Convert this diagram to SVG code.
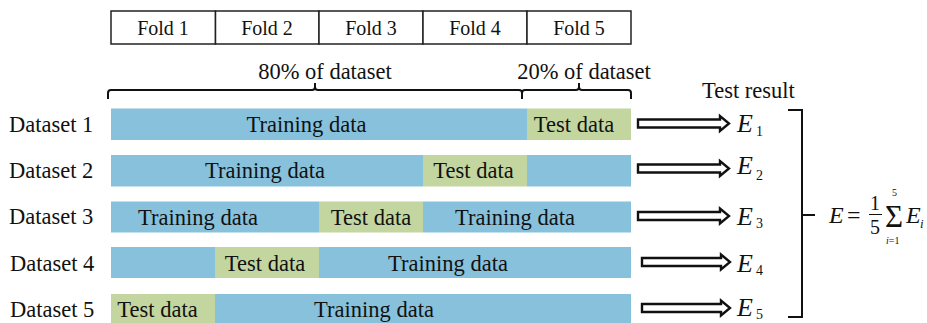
<svg xmlns="http://www.w3.org/2000/svg" width="927" height="323" viewBox="0 0 927 323" font-family="'Liberation Serif','DejaVu Serif','Times New Roman',serif">
<style>
text{font-family:"Liberation Serif","DejaVu Serif","Times New Roman",serif;fill:#111}
.fold{fill:#fff;stroke:#222;stroke-width:1.5}
.tr{fill:#87C1DC}
.te{fill:#C4D69F}
.t{font-size:22.5px;text-anchor:middle}
.lbl{font-size:22.5px}
.fl{font-size:20px;text-anchor:middle}
.br{fill:none;stroke:#111;stroke-width:2}
.ar{fill:#fff;stroke:#111;stroke-width:2.4;stroke-linejoin:miter}
.E{font-size:26px;font-style:italic}
.sub{font-size:14px}
</style>
<g id="folds">
<rect class="fold" x="111" y="11" width="104.5" height="33"/>
<rect class="fold" x="215.5" y="11" width="103.5" height="33"/>
<rect class="fold" x="319" y="11" width="104" height="33"/>
<rect class="fold" x="423" y="11" width="104" height="33"/>
<rect class="fold" x="527" y="11" width="104" height="33"/>
<text class="fl" x="163" y="35">Fold 1</text>
<text class="fl" x="267" y="35">Fold 2</text>
<text class="fl" x="371" y="35">Fold 3</text>
<text class="fl" x="475" y="35">Fold 4</text>
<text class="fl" x="579" y="35">Fold 5</text>
</g>
<g id="braces-top">
<path class="br" d="M108,99 V93 Q108,90 111,90 H312 Q315,90 315,87 V83 M315,87 Q315,90 318,90 H519 Q522,90 522,93 V99 M522,93 Q522,90 525,90 H576 Q579,90 579,87 V83 M579,87 Q579,90 582,90 H628 Q631,90 631,93 V99"/>
<text class="lbl" x="325" y="79" text-anchor="middle">80% of dataset</text>
<text class="lbl" x="584" y="79" text-anchor="middle">20% of dataset</text>
</g>
<g id="dataset1">
<text class="lbl" x="9" y="132">Dataset 1</text>
<rect class="tr" x="111" y="108.5" width="416" height="31.5"/>
<rect class="te" x="527" y="108.5" width="104" height="31.5"/>
<text class="t" x="306.5" y="132">Training data</text>
<text class="t" x="574" y="132">Test data</text>
</g>
<g id="dataset2">
<text class="lbl" x="9" y="178">Dataset 2</text>
<rect class="tr" x="111" y="155" width="312" height="31.5"/>
<rect class="te" x="423" y="155" width="104" height="31.5"/>
<rect class="tr" x="527" y="155" width="104" height="31.5"/>
<text class="t" x="265" y="178">Training data</text>
<text class="t" x="473.5" y="178">Test data</text>
</g>
<g id="dataset3">
<text class="lbl" x="9" y="224">Dataset 3</text>
<rect class="tr" x="111" y="201.5" width="208" height="31"/>
<rect class="te" x="319" y="201.5" width="104" height="31"/>
<rect class="tr" x="423" y="201.5" width="208" height="31"/>
<text class="t" x="198" y="225">Training data</text>
<text class="t" x="371" y="225">Test data</text>
<text class="t" x="515" y="225">Training data</text>
</g>
<g id="dataset4">
<text class="lbl" x="10" y="271">Dataset 4</text>
<rect class="tr" x="111" y="247" width="104" height="31"/>
<rect class="te" x="215" y="247" width="104" height="31"/>
<rect class="tr" x="319" y="247" width="312" height="31"/>
<text class="t" x="265" y="271">Test data</text>
<text class="t" x="448" y="271">Training data</text>
</g>
<g id="dataset5">
<text class="lbl" x="10" y="317">Dataset 5</text>
<rect class="te" x="111" y="294" width="104" height="31"/>
<rect class="tr" x="215" y="294" width="416" height="31"/>
<text class="t" x="157.5" y="317">Test data</text>
<text class="t" x="374" y="317">Training data</text>
</g>
<g id="connectors">
<path class="ar" d="M638,119.5 H720 V116 L729,123.5 L720,131 V127.5 H638 Z"/>
<path class="ar" d="M638,164.5 H720 V161 L729,168.5 L720,176 V172.5 H638 Z"/>
<path class="ar" d="M638,212 H720 V208.5 L729,216 L720,223.5 V220 H638 Z"/>
<path class="ar" d="M642,258 H721 V254.5 L730,262 L721,269.5 V266 H642 Z"/>
<path class="ar" d="M642,304 H721 V300.5 L730,308 L721,315.5 V312 H642 Z"/>
</g>
<g id="results">
<text class="lbl" x="702" y="98">Test result</text>
<text class="E" x="737" y="132">E</text><text class="sub" x="756" y="136">1</text>
<text class="E" x="737" y="174">E</text><text class="sub" x="756" y="180">2</text>
<text class="E" x="737" y="225">E</text><text class="sub" x="756" y="228">3</text>
<text class="E" x="737" y="272">E</text><text class="sub" x="756" y="275">4</text>
<text class="E" x="737" y="316">E</text><text class="sub" x="756" y="319">5</text>
</g>
<g id="brace-right">
<path class="br" d="M788,110 H802 V317 H788 M802,215 H815"/>
</g>
<g id="formula">
<text x="829" y="223" style="font-size:24px;font-style:italic">E</text>
<text x="847" y="223" style="font-size:24px">=</text>
<text x="870" y="210" style="font-size:20px">1</text>
<line x1="869" y1="214.5" x2="882" y2="214.5" stroke="#111" stroke-width="1"/>
<text x="870" y="234" style="font-size:20px">5</text>
<text x="885" y="227" style="font-size:31px">Σ</text>
<text x="892" y="196" style="font-size:10px">5</text>
<text x="886" y="244" style="font-size:10px"><tspan font-style="italic">i</tspan>=1</text>
<text x="906" y="223" style="font-size:24px;font-style:italic">E</text>
<text x="920" y="228" style="font-size:13px;font-style:italic">i</text>
</g>
</svg>
